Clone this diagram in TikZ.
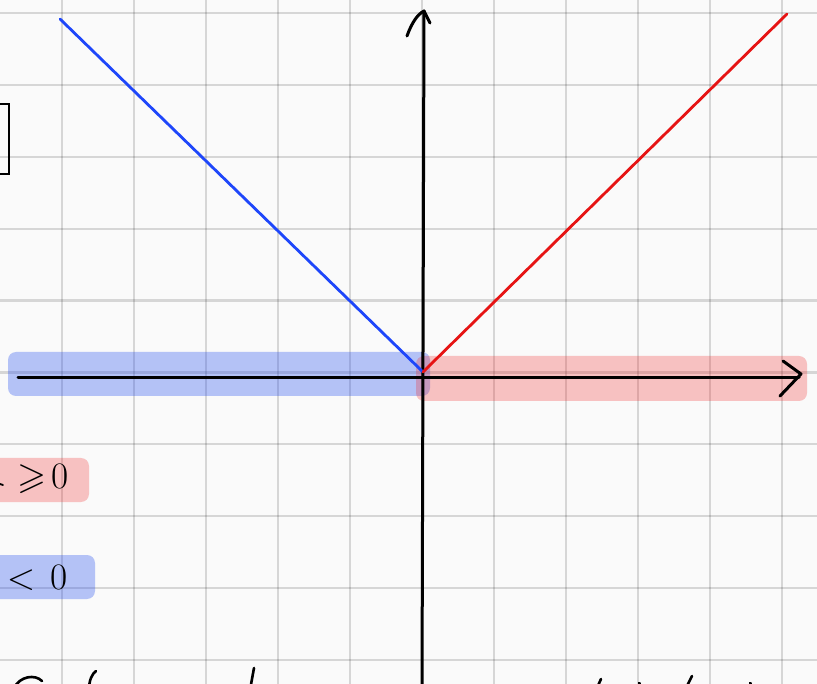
\documentclass[tikz,border=0pt]{standalone}
\usepackage{graphicx}
\usepackage{amssymb}
\begin{document}
\begin{tikzpicture}[x=1pt,y=-1pt,
  gridline/.style={draw=black,draw opacity=0.14,line width=2.2pt},
  axisline/.style={draw=black,line width=3pt,line cap=round,line join=round},
  ink/.style={draw=black,line width=2.6pt,line cap=round,line join=round},
  blueband/.style={fill={rgb,255:red,40;green,80;blue,240},fill opacity=0.33,rounded corners=8pt},
  redband/.style={fill={rgb,255:red,240;green,40;blue,40},fill opacity=0.27,rounded corners=8pt},
  bluegraph/.style={draw={rgb,255:red,30;green,70;blue,250},line width=2.8pt,line cap=round},
  redgraph/.style={draw={rgb,255:red,230;green,20;blue,20},line width=2.8pt,line cap=round},
  lbl/.style={inner sep=0pt,font=\Huge}]
\useasboundingbox (0,0) rectangle (817,684);
\fill[white!98!black] (0,0) rectangle (817,684);
\begin{scope}
\clip (0,0) rectangle (817,684);
% grid
\foreach \k in {0,...,10} \draw[gridline] (62+72*\k,-5) -- (62+72*\k,690);
\foreach \k in {0,...,9} \draw[gridline] (-5,13+71.9*\k) -- (822,13+71.9*\k);
% bands
\path[blueband] (8,352) rectangle (430,396);
\path[redband] (416,356) rectangle (807,401);
% label boxes
\path[redband] (-12,458) rectangle (89,502);
\path[blueband] (-12,555) rectangle (95,599);
% coordinates
\coordinate (O) at (423,372);
\coordinate (xs) at (18,378);
\coordinate (xe) at (799,378);
\coordinate (xa1) at (783,361);
\coordinate (xa2) at (801,374);
\coordinate (xa3) at (780,396);
\coordinate (ys) at (422,690);
\coordinate (ye) at (424,11);
\coordinate (ya1) at (407,36);
\coordinate (ya2) at (430,23);
\coordinate (bl) at (60,19);
\coordinate (rd) at (787,14);
% axes
\draw[axisline] (xs) -- (xe);
\draw[axisline] (xa1) -- (xa2) -- (xa3);
\draw[axisline] (ys) -- (ye);
\draw[axisline] (ya1) .. controls (412,22) and (418,14) .. (ye) -- (ya2);
% graph
\draw[bluegraph] (bl) -- (O);
\draw[redgraph] (O) -- (rd);
% left box
\draw[black,line width=2.4pt] (-20,104) rectangle (9,174);
% labels
\node[lbl] (ge) at (43,479) {\scalebox{1.5}{$\geqslant\!0$}};
\node[lbl] (lt) at (37,578) {\scalebox{1.5}{$<\hspace{3pt}0$}};
\draw[ink,line width=1.8pt] (0,484) -- (3,485);
% bottom fragments
\draw[ink] (14,688) .. controls (20,676) and (35,674) .. (42,681);
\draw[ink] (89,690) .. controls (89,680) and (92,674) .. (96,671);
\draw[ink] (250,690) -- (254,668);
\draw[ink] (596,690) -- (601,679);
\draw[ink] (639,683) -- (640,684);
\draw[ink] (685,690) -- (692,676);
\draw[ink] (750,683) -- (751,684);
\end{scope}
\end{tikzpicture}
\end{document}
